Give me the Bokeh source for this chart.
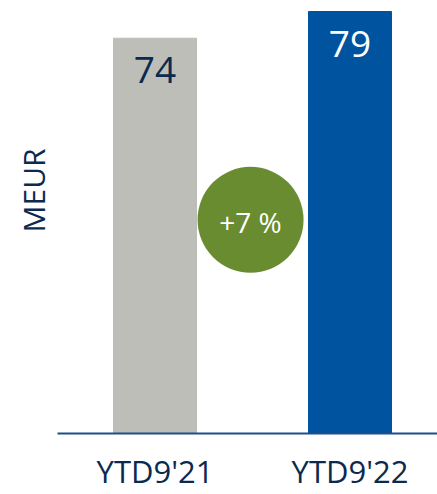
import math
from bokeh.plotting import figure
from bokeh.models import Range1d, FixedTicker, ColumnDataSource
from bokeh.core.properties import value
from bokeh.embed import file_html
from bokeh.resources import INLINE

categories = ["YTD9'21", "YTD9'22"]
values = [74, 79]
value_labels = ["74", "79"]
bar_colors = ["#bebeb8", "#00539f"]
value_text_colors = ["#0b2a50", "#ffffff"]
growth_label = "+7 %"
growth_y = 40
unit_label = "MEUR"

FONT = "Open Sans"
NAVY = "#0b2a50"

xpos = list(range(len(categories)))
X_START, X_END = -0.7923, 1.4487
Y_START, Y_END = -11.42, 81.06

p = figure(width=437, height=494, output_backend="svg", toolbar_location=None,
           x_range=Range1d(X_START, X_END), y_range=Range1d(Y_START, Y_END),
           min_border_left=0, min_border_right=0, min_border_top=0, min_border_bottom=0)
p.outline_line_color = None
p.grid.visible = False
p.background_fill_color = "white"

src = ColumnDataSource(dict(x=xpos, top=values, color=bar_colors,
                            label=value_labels, tcolor=value_text_colors))
p.vbar(x="x", top="top", width=0.4256, color="color", source=src)
p.text(x="x", y="top", text="label", text_color="tcolor", source=src,
       text_align="center", text_baseline="alphabetic", y_offset=32,
       text_font=value(FONT), text_font_size="37px")

cx = sum(xpos) / len(xpos) - 0.01
p.scatter(x=[cx], y=[growth_y], size=106, marker="circle", fill_color="#6a8c30", line_color=None)
p.text(x=[cx], y=[growth_y], text=[growth_label], text_align="center", text_baseline="middle",
       text_color="white", text_font=value(FONT), text_font_size="28px", y_offset=2)

p.text(x=[-0.623], y=[45.5], text=[unit_label], angle=math.pi / 2,
       text_align="center", text_baseline="middle", text_color=NAVY,
       text_font=value(FONT), text_font_size="30px")

xa = p.xaxis[0]
xa.fixed_location = 0
xa.bounds = (-0.5, X_END)
xa.ticker = FixedTicker(ticks=xpos)
xa.major_label_overrides = {i: c for i, c in zip(xpos, categories)}
xa.axis_line_color = "#1f4e8c"
xa.axis_line_width = 2
xa.major_tick_line_color = None
xa.minor_tick_line_color = None
xa.major_tick_out = 0
xa.major_label_standoff = 17
xa.major_label_text_font = FONT
xa.major_label_text_font_size = "31px"
xa.major_label_text_color = NAVY

p.yaxis.visible = False

open("out.html", "w").write(file_html(p, INLINE))
